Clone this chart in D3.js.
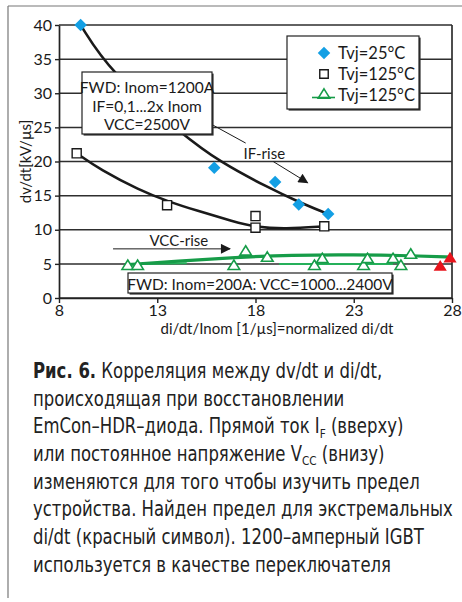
<!DOCTYPE html>
<html>
<head>
<meta charset="utf-8">
<script src="https://cdn.jsdelivr.net/npm/d3@7"></script>
<style>
  html, body { margin: 0; padding: 0; background: #fff; }
  svg { display: block; }
</style>
</head>
<body>
<svg id="chart" width="462" height="602"></svg>
<script>
// ---- values ----
const xTicks = [8, 13, 18, 23, 28];
const yTicks = [0, 5, 10, 15, 20, 25, 30, 35, 40];

// Tvj = 25 °C, IF varied (blue diamonds)
const tvj25 = [[9.1, 40.0], [15.9, 19.1], [19.0, 17.0], [20.2, 13.7], [21.7, 12.3]];
// Tvj = 125 °C, IF varied (open squares)
const tvj125 = [[8.9, 21.2], [13.5, 13.6], [18.0, 12.0], [18.0, 10.3], [21.5, 10.5]];
// Tvj = 125 °C, VCC varied (open triangles)
const tvj125Vcc = [[11.5, 4.8], [12.0, 4.8], [16.9, 4.8], [17.5, 6.9], [18.6, 6.0], [21.0, 4.8],
                   [21.4, 5.8], [23.5, 4.8], [23.7, 5.8], [25.0, 5.8], [25.4, 4.8], [25.9, 6.45]];
// limit found at extreme di/dt (red)
const limitPoints = [[27.4, 4.7], [27.9, 5.9]];

// hand-drawn trend curves
const trend25 = [[9.1, 40.0], [10.6, 33.1], [14.3, 23.9], [16.2, 19.9], [18.7, 16.1], [20.1, 14.2], [21.6, 12.4]];
const trend125 = [[8.9, 21.2], [10.1, 18.8], [12.1, 15.8], [13.5, 14.2], [15.0, 12.8], [16.9, 11.2],
                  [18.0, 10.4], [19.5, 10.1], [21.5, 10.5]];
const trendVcc = [[11.5, 4.9], [14.0, 5.4], [17.0, 5.95], [19.8, 6.3], [23.0, 6.35], [26.0, 6.2], [28.0, 6.0]];
const trendVccLowA = [[11.5, 4.95], [14.5, 5.1]];
const trendVccLowB = [[19.2, 5.0], [25.0, 5.0]];

const legendLabels = ["Tvj=25°C", "Tvj=125°C", "Tvj=125°C"];
const box1Lines = ["FWD: Inom=1200A", "IF=0,1...2x Inom", "VCC=2500V"];
const box2Text = "FWD: Inom=200A: VCC=1000...2400V";
const yTitle = "dv/dt[kV/µs]";
const xTitle = "di/dt/Inom [1/µs]=normalized di/dt";

// ---- setup ----
const svg = d3.select("#chart");
const FONT = "Lato, 'Open Sans', sans-serif";
const BLUE = "#139fe4", GREEN = "#169c48", RED = "#e8141c", INK = "#1a1a1a";

const x = d3.scaleLinear().domain([8, 28]).range([59, 452]);
const y = d3.scaleLinear().domain([0, 40]).range([298, 25]);

// page frame
svg.append("line").attr("x1", 8).attr("y1", 6).attr("x2", 462).attr("y2", 6)
  .attr("stroke", "#777").attr("stroke-width", 1.2);
svg.append("line").attr("x1", 8).attr("y1", 6).attr("x2", 8).attr("y2", 598)
  .attr("stroke", "#777").attr("stroke-width", 1.2);

// horizontal grid
svg.append("g").selectAll("line").data(yTicks).join("line")
  .attr("x1", x(8)).attr("x2", x(28))
  .attr("y1", d => y(d)).attr("y2", d => y(d))
  .attr("stroke", "#2e2e2e").attr("stroke-width", 1.5);

// right border
svg.append("line").attr("x1", x(28)).attr("x2", x(28)).attr("y1", y(40)).attr("y2", y(0))
  .attr("stroke", "#2e2e2e").attr("stroke-width", 1.7);

// axes
const yAxis = svg.append("g").attr("transform", `translate(${x(8)},0)`)
  .call(d3.axisLeft(y).tickValues(yTicks).tickSize(4).tickPadding(3).tickSizeOuter(0));
const xAxis = svg.append("g").attr("transform", `translate(0,${y(0)})`)
  .call(d3.axisBottom(x).tickValues(xTicks).tickSize(5).tickPadding(2).tickSizeOuter(0));
[yAxis, xAxis].forEach(g => {
  g.select(".domain").attr("stroke", "#222").attr("stroke-width", 1.7);
  g.selectAll(".tick line").attr("stroke", "#222").attr("stroke-width", 1.4);
  g.selectAll(".tick text").attr("font-family", FONT).attr("font-size", 16).attr("fill", INK);
});

// axis titles
svg.append("text").attr("transform", `translate(25,${(y(0) + y(40)) / 2}) rotate(-90)`)
  .attr("text-anchor", "middle").attr("dominant-baseline", "central")
  .attr("font-family", FONT).attr("font-size", 15).attr("fill", INK).text(yTitle);
svg.append("text").attr("x", 277).attr("y", 334)
  .attr("text-anchor", "middle")
  .attr("font-family", FONT).attr("font-size", 15).attr("fill", INK).text(xTitle);

// ---- curves ----
const lineGen = d3.line().x(d => x(d[0])).y(d => y(d[1])).curve(d3.curveBasis);
const straight = d3.line().x(d => x(d[0])).y(d => y(d[1]));

svg.append("path").attr("d", straight(trendVccLowA)).attr("fill", "none")
  .attr("stroke", "#25b05a").attr("stroke-width", 2);
svg.append("path").attr("d", straight(trendVccLowB)).attr("fill", "none")
  .attr("stroke", "#25b05a").attr("stroke-width", 2);
svg.append("path").attr("d", lineGen(trendVcc)).attr("fill", "none")
  .attr("stroke", GREEN).attr("stroke-width", 3.2);
svg.append("path").attr("d", lineGen(trend25)).attr("fill", "none")
  .attr("stroke", INK).attr("stroke-width", 2.6);
svg.append("path").attr("d", lineGen(trend125)).attr("fill", "none")
  .attr("stroke", INK).attr("stroke-width", 2.6);

// ---- arrows ----
const defs = svg.append("defs");
defs.append("marker").attr("id", "head").attr("viewBox", "0 0 10 10")
  .attr("refX", 9).attr("refY", 5).attr("markerWidth", 13).attr("markerHeight", 10)
  .attr("markerUnits", "userSpaceOnUse").attr("orient", "auto")
  .append("path").attr("d", "M0,0 L10,5 L0,10 Z").attr("fill", INK);

// IF-rise: pointer from the box, label, then arrow
svg.append("line").attr("x1", x(15.79)).attr("y1", y(25.4)).attr("x2", x(17.5)).attr("y2", y(22.7))
  .attr("stroke", INK).attr("stroke-width", 1);
svg.append("text").attr("x", x(18.45)).attr("y", y(21.25)).attr("text-anchor", "middle")
  .attr("dominant-baseline", "central")
  .attr("font-family", FONT).attr("font-size", 15).attr("fill", INK).text("IF-rise");
svg.append("line").attr("x1", x(18.9)).attr("y1", y(20.0)).attr("x2", x(20.65)).attr("y2", y(16.9))
  .attr("stroke", INK).attr("stroke-width", 1).attr("marker-end", "url(#head)");

// VCC-rise
svg.append("text").attr("x", x(14.1)).attr("y", y(8.55)).attr("text-anchor", "middle")
  .attr("dominant-baseline", "central")
  .attr("font-family", FONT).attr("font-size", 15).attr("fill", INK).text("VCC-rise");
svg.append("line").attr("x1", x(10.75)).attr("y1", y(7.2)).attr("x2", x(16.7)).attr("y2", y(7.2))
  .attr("stroke", INK).attr("stroke-width", 1).attr("marker-end", "url(#head)");

// ---- markers ----
const diamond = d3.symbol().type(d3.symbolSquare).size(78)();
const square = d3.symbol().type(d3.symbolSquare).size(82)();
const tri = "M0,-5.2 L5.8,4.2 L-5.8,4.2 Z";
const triBig = "M0,-6 L6.6,4.8 L-6.6,4.8 Z";

svg.append("g").selectAll("path").data(tvj25).join("path")
  .attr("d", diamond)
  .attr("transform", d => `translate(${x(d[0])},${y(d[1])}) rotate(45)`)
  .attr("fill", BLUE);
svg.append("g").selectAll("path").data(tvj125).join("path")
  .attr("d", square)
  .attr("transform", d => `translate(${x(d[0])},${y(d[1])})`)
  .attr("fill", "#fff").attr("stroke", INK).attr("stroke-width", 1.4);
svg.append("g").selectAll("path").data(tvj125Vcc).join("path")
  .attr("d", tri)
  .attr("transform", d => `translate(${x(d[0])},${y(d[1])})`)
  .attr("fill", "#fff").attr("stroke", GREEN).attr("stroke-width", 1.6);
svg.append("g").selectAll("path").data(limitPoints).join("path")
  .attr("d", triBig)
  .attr("transform", d => `translate(${x(d[0])},${y(d[1])})`)
  .attr("fill", RED);

// ---- boxes ----
function shadowBox(x0, y0, w, h) {
  svg.append("rect").attr("x", x0 + 1.6).attr("y", y0 + 1.6).attr("width", w).attr("height", h)
    .attr("fill", "#333");
  svg.append("rect").attr("x", x0).attr("y", y0).attr("width", w).attr("height", h)
    .attr("fill", "#fff").attr("stroke", "#222").attr("stroke-width", 1.2);
}

shadowBox(82, 72, 130, 62);
box1Lines.forEach((t, i) => {
  svg.append("text").attr("x", 147).attr("y", 87 + i * 18.5).attr("text-anchor", "middle")
    .attr("dominant-baseline", "central")
    .attr("font-family", FONT).attr("font-size", 15.5).attr("fill", INK).text(t);
});

shadowBox(128, 273, 264, 20);
svg.append("text").attr("x", 260).attr("y", 283.5).attr("text-anchor", "middle")
  .attr("dominant-baseline", "central")
  .attr("font-family", FONT).attr("font-size", 15.5).attr("fill", INK).text(box2Text);

// legend
shadowBox(287, 36, 132, 73);
const legendY = [53, 74, 95];
svg.append("path").attr("d", diamond)
  .attr("transform", `translate(324,${legendY[0]}) rotate(45)`).attr("fill", BLUE);
svg.append("path").attr("d", d3.symbol().type(d3.symbolSquare).size(72)())
  .attr("transform", `translate(324,${legendY[1]})`)
  .attr("fill", "#fff").attr("stroke", INK).attr("stroke-width", 1.4);
svg.append("line").attr("x1", 312).attr("x2", 335).attr("y1", legendY[2] + 2.5).attr("y2", legendY[2] + 2.5)
  .attr("stroke", GREEN).attr("stroke-width", 1.6);
svg.append("path").attr("d", tri)
  .attr("transform", `translate(324,${legendY[2] - 1})`)
  .attr("fill", "none").attr("stroke", GREEN).attr("stroke-width", 1.6);
legendLabels.forEach((t, i) => {
  svg.append("text").attr("x", 338).attr("y", legendY[i]).attr("dominant-baseline", "central")
    .attr("font-family", FONT).attr("font-size", 16.5).attr("fill", INK).text(t);
});

// ---- caption ----
const CAP = "'Liberation Sans Narrow', 'DejaVu Sans Condensed', Roboto, sans-serif";
const cap = svg.append("g").attr("font-family", CAP).attr("font-size", 20.5).attr("fill", "#222");
const capLines = [
  [["Рис. 6.", "b"], [" Корреляция между dv/dt и di/dt,", ""]],
  [["происходящая при восстановлении", ""]],
  [["EmCon–HDR–диода. Прямой ток I", ""], ["F", "sub"], [" (вверху)", ""]],
  [["или постоянное напряжение V", ""], ["CC", "sub"], [" (внизу)", ""]],
  [["изменяются для того чтобы изучить предел", ""]],
  [["устройства. Найден предел для экстремальных", ""]],
  [["di/dt (красный символ). 1200–амперный IGBT", ""]],
  [["используется в качестве переключателя", ""]]
];
const capRows = [];
capLines.forEach((parts, i) => {
  const t = cap.append("text").attr("x", 33).attr("y", 378 + i * 27.7);
  parts.forEach(([s, k]) => {
    const ts = t.append("tspan").text(s);
    if (k === "b") ts.attr("font-weight", "bold");
    if (k === "sub") ts.attr("font-size", 13).attr("baseline-shift", "-4");
  });
  capRows.push(t);
});
// fit the widest line to the column width
const w6 = capRows[5].node().getComputedTextLength();
const sx = 420 / w6;
capRows.forEach(t => t.attr("transform", `translate(33,0) scale(${sx},1) translate(-33,0)`));
</script>
</body>
</html>
